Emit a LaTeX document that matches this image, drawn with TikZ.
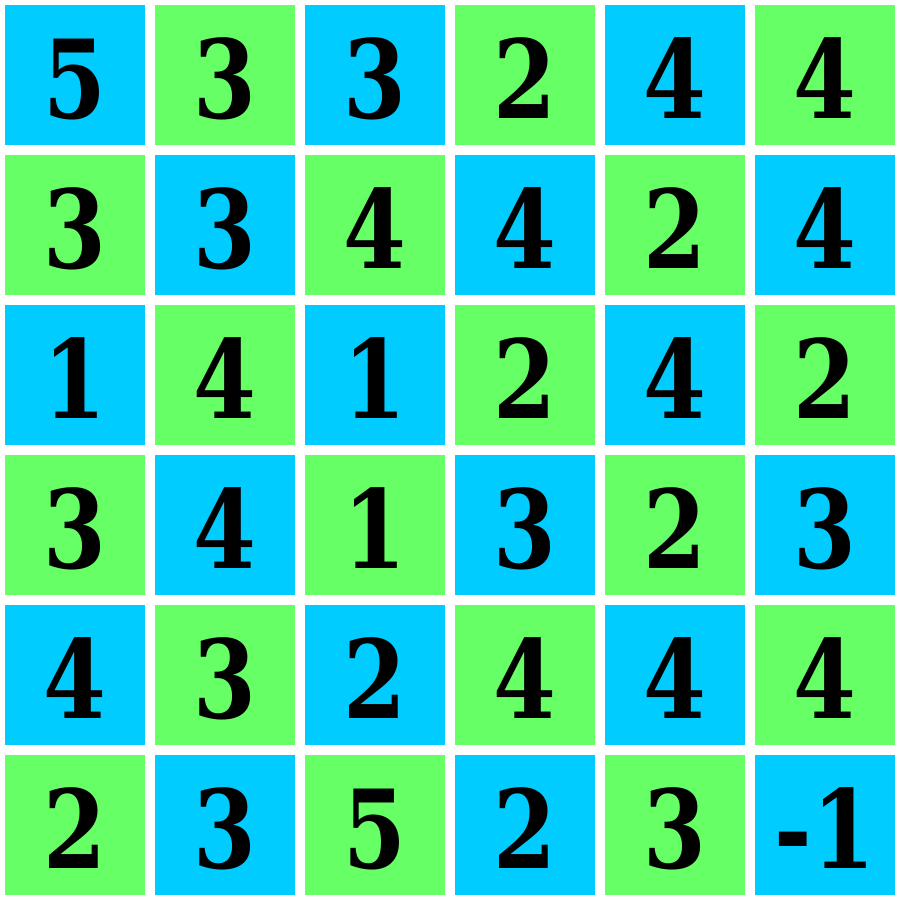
\documentclass[tikz,border=0pt]{standalone}
\usepackage{fontspec}
\setmainfont{DejaVu Serif Condensed}
\definecolor{cblue}{HTML}{00CCFF}
\definecolor{cgreen}{HTML}{66FF66}
\begin{document}
\begin{tikzpicture}[x=1pt,y=1pt,
  cell/.style={minimum width=140pt,minimum height=140pt,inner sep=0pt,outer sep=0pt},
  digit/.style={anchor=base,inner sep=0pt,font=\fontsize{109}{109}\bfseries\selectfont}]
\useasboundingbox[fill=white] (0,0) rectangle (902,901);
\foreach \row [count=\j from 0] in {{5,3,3,2,4,4},{3,3,4,4,2,4},{1,4,1,2,4,2},{3,4,1,3,2,3},{4,3,2,4,4,4},{2,3,5,2,3,-1}}{
  \foreach \v [count=\i from 0] in \row {
    \pgfmathtruncatemacro{\parity}{mod(\i+\j,2)}
    \ifnum\parity=0 \def\cc{cblue}\else\def\cc{cgreen}\fi
    \node[cell,fill=\cc] (c-\i-\j) at (75+150*\i,901-75-150*\j) {};
    \node[digit] (d-\i-\j) at ([yshift=-44pt]c-\i-\j.center) {\scalebox{0.92}[1]{\v}};
  }
}
\end{tikzpicture}
\end{document}
